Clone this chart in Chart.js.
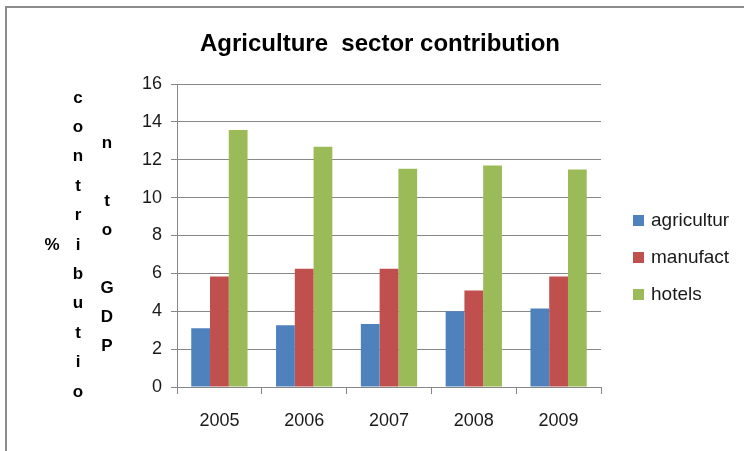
<!DOCTYPE html>
<html>
<head>
<meta charset="utf-8">
<script src="https://cdn.jsdelivr.net/npm/chart.js@4/dist/chart.umd.min.js"></script>
<style>
  body { margin: 0; background: #ffffff; }
  canvas { display: block; }
</style>
</head>
<body>
<canvas id="sectorChart" width="744" height="451"></canvas>
<script>
// data
let years = ["2005", "2006", "2007", "2008", "2009"];
let agriculture = [3.1, 3.26, 3.33, 4.0, 4.15];
let manufacturing = [5.83, 6.25, 6.25, 5.1, 5.83];
let hotels = [13.57, 12.69, 11.53, 11.69, 11.49];
let seriesNames = ["agricultur", "manufact", "hotels"];
let seriesColors = ["#4f81bd", "#c0504d", "#9bbb59"];
let yTicks = [0, 2, 4, 6, 8, 10, 12, 14, 16];
let chartTitle = "Agriculture  sector contribution";
let yTitleLines = ["%", "contributio", "n to GDP"];

let fontFamily = "'Liberation Sans', Arial, sans-serif";

// frame, title, stacked y title and legend
let decorPlugin = {
    id: 'decor',
    beforeDraw(chart) {
        let ctx = chart.ctx;
        ctx.save();
        ctx.strokeStyle = "#8c8c8c";
        ctx.lineWidth = 2;
        ctx.beginPath();
        ctx.moveTo(6, 451);
        ctx.lineTo(6, 7);
        ctx.lineTo(744, 7);
        ctx.stroke();
        ctx.restore();
    },
    afterDraw(chart) {
        let ctx = chart.ctx;
        ctx.save();
        ctx.fillStyle = "#000000";
        ctx.textAlign = "center";
        ctx.textBaseline = "middle";
        ctx.font = "bold 24px " + fontFamily;
        ctx.fillText(chartTitle, 380, 44);

        // y axis title, one letter per row like the wrapped original
        ctx.font = "bold 17px " + fontFamily;
        ctx.fillText(yTitleLines[0], 52, 245);
        let col1 = yTitleLines[1].split("");
        col1.forEach(function(ch, i) {
            ctx.fillText(ch, 78, 98 + i * 29.4);
        });
        let col2 = yTitleLines[2].split("");
        col2.forEach(function(ch, i) {
            if (ch !== " ") ctx.fillText(ch, 107, 143 + i * 29);
        });

        // legend
        ctx.textAlign = "left";
        ctx.font = "19px " + fontFamily;
        chart.data.datasets.forEach(function(ds, i) {
            let y = 221 + i * 37;
            ctx.fillStyle = ds.backgroundColor;
            ctx.fillRect(633, y - 6, 11, 11);
            ctx.fillStyle = "#1a1a1a";
            ctx.fillText(ds.label, 651, y);
        });
        ctx.restore();
    }
};

function manageSectorChart() {
    let ctx = document.getElementById("sectorChart").getContext('2d');
    let sectorChart = new Chart(ctx, {
        type: 'bar',
        data: {
            labels: years,
            datasets: [
                { label: seriesNames[0], data: agriculture, backgroundColor: seriesColors[0] },
                { label: seriesNames[1], data: manufacturing, backgroundColor: seriesColors[1] },
                { label: seriesNames[2], data: hotels, backgroundColor: seriesColors[2] }
            ]
        },
        options: {
            responsive: false,
            maintainAspectRatio: false,
            animation: false,
            layout: { padding: { top: 84, right: 143, bottom: 0, left: 0 } },
            datasets: { bar: { barPercentage: 1, categoryPercentage: 0.664 } },
            plugins: {
                legend: { display: false },
                title: { display: false },
                tooltip: { enabled: false }
            },
            scales: {
                x: {
                    grid: { drawOnChartArea: false, drawTicks: true, tickLength: 7, color: "#878787" },
                    border: { color: "#878787" },
                    ticks: { color: "#1a1a1a", padding: 16, font: { family: fontFamily, size: 18 } },
                    afterFit: function(scale) { scale.height = 64; }
                },
                y: {
                    min: 0,
                    max: 16,
                    afterBuildTicks: function(scale) {
                        scale.ticks = yTicks.map(function(v) { return { value: v }; });
                    },
                    grid: { color: "#878787", tickLength: 6 },
                    border: { color: "#878787" },
                    ticks: { color: "#1a1a1a", padding: 9, font: { family: fontFamily, size: 18 } },
                    afterFit: function(scale) { scale.width = 177; }
                }
            }
        },
        plugins: [decorPlugin]
    });
}

manageSectorChart();
</script>
</body>
</html>
